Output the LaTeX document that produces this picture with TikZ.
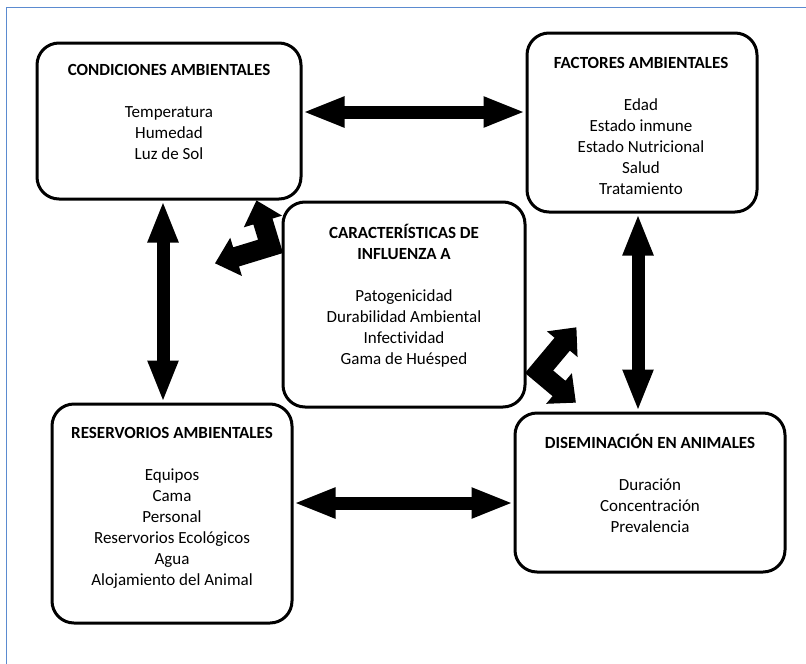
\documentclass[tikz,border=0pt]{standalone}
\usepackage{fontspec}
\setmainfont[Ligatures=NoCommon]{Carlito}
\usetikzlibrary{arrows.meta}
\definecolor{framecol}{RGB}{91,139,208}
\begin{document}
\begin{tikzpicture}[x=1pt,y=-1pt,
  box/.style={draw, line width=3pt, rounded corners=22pt, fill=white, inner sep=0pt},
  txt/.style={align=center, font=\fontsize{17}{21}\selectfont, inner sep=0pt},
  blk/.style={line width=13pt, {Triangle[length=42pt,width=28pt]}-{Triangle[length=42pt,width=28pt]}},
  bent/.style={fill=black},
  frame/.style={draw=framecol, line width=1pt}]
\useasboundingbox (0,0) rectangle (806,664);
\draw[frame] (6,664) -- (6,7) -- (806,7);

% bent double arrows (behind the centre box)
\begin{scope}[shift={(283,253)}, rotate=17]
  \fill[bent] (0,0) -- (-46,0) -- (-46,10) -- (-68,-10) -- (-46,-30) -- (-46,-20) -- (-20,-20) -- (-20,-36) -- (-30,-36) -- (-10,-58) -- (10,-36) -- (0,-36) -- cycle;
\end{scope}
\begin{scope}[shift={(525,373)}, rotate=-130]
  \fill[bent] (0,0) -- (-46,0) -- (-46,10) -- (-68,-10) -- (-46,-30) -- (-46,-20) -- (-20,-20) -- (-20,-36) -- (-30,-36) -- (-10,-58) -- (10,-36) -- (0,-36) -- cycle;
\end{scope}

% boxes
\node[box, minimum width=264pt, minimum height=156pt] (b1) at (169,121) {};
\node[box, minimum width=230pt, minimum height=179pt] (b2) at (642,122.5) {};
\node[box, minimum width=242pt, minimum height=205pt] (b3) at (404,304.5) {};
\node[box, minimum width=240pt, minimum height=219pt] (b4) at (172,513.5) {};
\node[box, minimum width=270pt, minimum height=159pt] (b5) at (650,492.5) {};

% texts
\node[txt] (t1) at (169,112) {\textbf{CONDICIONES AMBIENTALES}\\[21pt]Temperatura\\Humedad\\Luz de Sol};
\node[txt] (t2) at (641,126) {\textbf{FACTORES AMBIENTALES}\\[21pt]Edad\\Estado inmune\\Estado Nutricional\\Salud\\Tratamiento};
\node[txt] (t3) at (404,296) {\textbf{CARACTERÍSTICAS DE}\\\textbf{INFLUENZA A}\\[21pt]Patogenicidad\\Durabilidad Ambiental\\Infectividad\\Gama de Huésped};
\node[txt] (t4) at (172,508) {\textbf{RESERVORIOS AMBIENTALES}\\[21pt]Equipos\\Cama\\Personal\\Reservorios Ecológicos\\Agua\\Alojamiento del Animal};
\node[txt] (t5) at (650,483) {\textbf{DISEMINACIÓN EN ANIMALES}\\[21pt]Duración\\Concentración\\Prevalencia};

% straight double arrows
\coordinate (ya) at (0,112);
\coordinate (yb) at (0,503);
\coordinate (xl) at (163,0);
\coordinate (xr) at (638,0);
\draw[blk] (b1.east |- ya) -- (b2.west |- ya);
\draw[blk] (b1.south -| xl) -- (b4.north -| xl);
\draw[blk] (b2.south -| xr) -- (b5.north -| xr);
\draw[blk] (b4.east |- yb) -- (b5.west |- yb);
\end{tikzpicture}
\end{document}
